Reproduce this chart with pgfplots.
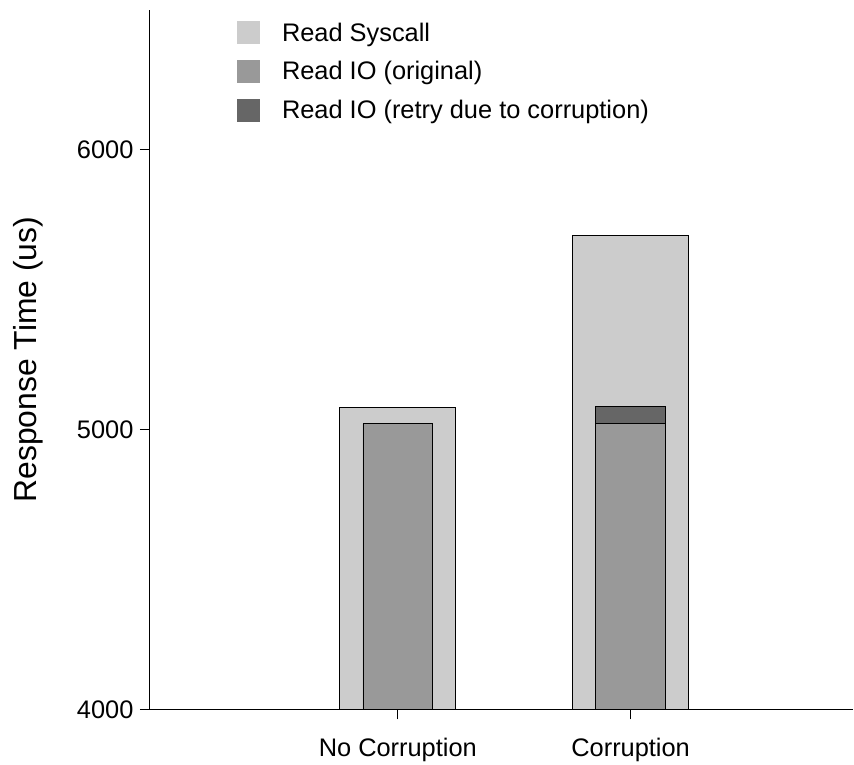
\documentclass[border=0pt]{standalone}
\usepackage{pgfplots}
\pgfplotsset{compat=1.18}
\usepackage{fontspec}
\setmainfont{Liberation Sans}

\definecolor{syscall}{HTML}{CCCCCC}
\definecolor{ioorig}{HTML}{999999}
\definecolor{ioretry}{HTML}{666666}

\pgfplotsset{
  common/.style={
    width=704bp, height=700bp, scale only axis,
    xmin=-1.065, xmax=1.957,
    ymin=4000, ymax=6500,
  },
}

\begin{document}
\begin{tikzpicture}[x=1bp,y=1bp]
% Read syscall (wide bars) with the axes
\begin{axis}[common,
  axis x line*=bottom, axis y line*=left,
  axis line style={line width=1.2bp},
  xtick align=outside, ytick align=outside,
  major tick length=10bp,
  xtick style={black, line width=1.2bp},
  ytick style={black, line width=1.2bp},
  xtick={0,1}, xticklabels={No Corruption, Corruption},
  ytick={4000,5000,6000},
  /pgf/number format/assume math mode=true,
  yticklabel style={/pgf/number format/1000 sep={}},
  ticklabel style={font=\fontsize{25.5}{30}\selectfont},
  xticklabel style={yshift=-15bp},
  yticklabel style={xshift=-3bp},
  ylabel={Response Time (us)},
  ylabel style={font=\fontsize{32}{38}\selectfont, inner sep=0pt,
    at={(axis description cs:-0.194,0.5)}, anchor=north},
  legend cell align=left,
  legend style={draw=none, fill=none, inner sep=0pt,
    at={(axis description cs:0.1236,0.985)}, anchor=north west,
    font=\fontsize{25.5}{30}\selectfont, row sep=15bp,
    /tikz/every odd column/.append style={column sep=20bp}},
  legend image code/.code={\fill[#1,draw=none] (0bp,-11.5bp) rectangle (23bp,11.5bp);},
]
\addplot[ybar, bar width=0.498, bar shift=0pt, fill=syscall, draw=black, line width=0.8bp]
  coordinates {(0,5079) (1,5693)};
\addlegendentry{Read Syscall}
\addlegendimage{fill=ioorig}
\addlegendentry{Read IO (original)}
\addlegendimage{fill=ioretry}
\addlegendentry{Read IO (retry due to corruption)}
\end{axis}
% Read IO, original and retry stacked (narrow bars)
\begin{axis}[common, hide axis, ybar stacked, bar width=0.30]
\addplot[fill=ioorig, draw=black, line width=0.8bp]
  coordinates {(0,5021) (1,5021)};
\addplot[fill=ioretry, draw=black, line width=0.8bp]
  coordinates {(0,0) (1,61)};
\end{axis}
% page extent around the axis
\path (-150bp,-55bp) rectangle (704bp,710bp);
\end{tikzpicture}
\end{document}
